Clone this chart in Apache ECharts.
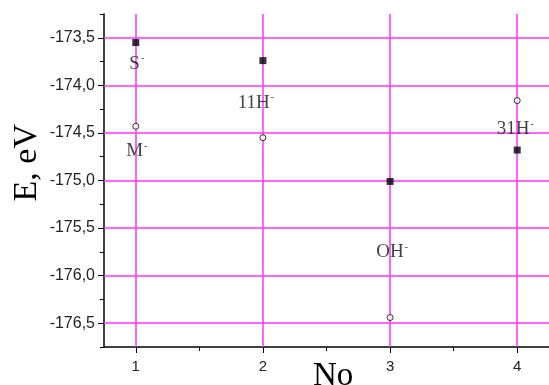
<!DOCTYPE html>
<html>
<head>
<meta charset="utf-8">
<script src="https://cdn.jsdelivr.net/npm/echarts@6/dist/echarts.min.js"></script>
<style>html,body{margin:0;padding:0;background:#fff}#c{width:549px;height:385px}</style>
</head>
<body>
<div id="c"></div>
<script>
// ---- data ----
var xTicks = [1, 2, 3, 4];
var xMinorTicks = [1.5, 2.5, 3.5];
var yTicks = [-176.5, -176.0, -175.5, -175.0, -174.5, -174.0, -173.5];
var yMinorTicks = [-176.75, -176.25, -175.75, -175.25, -174.75, -174.25, -173.75, -173.25];
var squareValues = [-173.55, -173.74, -175.01, -174.68];
var circleValues = [-174.43, -174.55, -176.44, -174.16];
var squareLabels = ['S', '11H', 'OH', '31H'];
var circleLabels = ['M', '', '', ''];

var squareLabelOffsets = [[1, 21], [-7, 42], [2, 71], [-2, -21]];
var circleLabelOffsets = [[1, 25], [0, 0], [0, 0], [0, 0]];

var rich = {
  m: { fontFamily: 'Liberation Serif', fontSize: 19, color: '#111' },
  s: { fontFamily: 'Liberation Serif', fontSize: 10, color: '#111', verticalAlign: 'top', padding: [0, 0, 10, 1] }
};
function mkData(vals, labels, offs) {
  return vals.map(function (v, i) {
    var d = { value: [xTicks[i], v] };
    if (labels[i]) {
      d.label = { show: true, position: 'inside', offset: offs[i], formatter: '{m|' + labels[i] + '}{s|-}', rich: rich };
    }
    return d;
  });
}

var gridColor = '#ff33ff';
var chart = echarts.init(document.getElementById('c'));
var axisCommon = { type: 'value', min: 0.75, max: 4.25, splitLine: { show: false } };
chart.setOption({
  animation: false,
  grid: { left: 104, top: 14, width: 447, height: 333 },
  xAxis: [
    Object.assign({}, axisCommon, {
      position: 'bottom', offset: 0,
      axisLine: { show: true, lineStyle: { color: '#000', width: 1.5 } },
      axisTick: { show: true, customValues: xTicks, length: 6, lineStyle: { color: '#000', width: 1 } },
      axisLabel: { customValues: xTicks, margin: 12, color: '#222', fontFamily: 'Liberation Sans', fontSize: 15 }
    }),
    Object.assign({}, axisCommon, {
      position: 'bottom', offset: 0,
      axisLine: { show: false },
      axisTick: { show: true, customValues: xMinorTicks, length: 4, lineStyle: { color: '#000', width: 1 } },
      axisLabel: { show: false }
    })
  ],
  yAxis: [
    {
      type: 'value', min: -176.75, max: -173.25, position: 'left', offset: 0,
      splitLine: { show: false },
      axisLine: { show: true, lineStyle: { color: '#000', width: 1.5 } },
      axisTick: { show: true, customValues: yTicks, length: 6, lineStyle: { color: '#000', width: 1 } },
      axisLabel: {
        customValues: yTicks, margin: 9, color: '#222', fontFamily: 'Liberation Sans', fontSize: 16,
        formatter: function (v) { return v.toFixed(1).replace('.', ','); }
      }
    },
    {
      type: 'value', min: -176.75, max: -173.25, position: 'left', offset: 0,
      splitLine: { show: false },
      axisLine: { show: false },
      axisTick: { show: true, customValues: yMinorTicks, length: 4, lineStyle: { color: '#000', width: 1 } },
      axisLabel: { show: false }
    }
  ],
  graphic: [
    { type: 'text', left: 10, top: 124, rotation: Math.PI / 2,
      style: { text: 'E, eV', font: '34px "Liberation Serif"', fill: '#000' } },
    { type: 'text', left: 313, top: 360,
      style: { text: 'No', font: '33px "Liberation Serif"', fill: '#000' } }
  ],
  series: [
    {
      type: 'line', xAxisIndex: 0, yAxisIndex: 0, data: [], z: 1, silent: true,
      markLine: {
        silent: true, symbol: 'none', label: { show: false },
        lineStyle: { color: gridColor, width: 1.5, type: 'solid' },
        emphasis: { disabled: true },
        data: yTicks.map(function (v) { return { yAxis: v }; }).concat(xTicks.map(function (v) { return { xAxis: v }; }))
      }
    },
    {
      type: 'scatter', xAxisIndex: 0, yAxisIndex: 0, z: 5,
      symbol: 'rect', symbolSize: 7,
      itemStyle: { color: '#000' },
      data: mkData(squareValues, squareLabels, squareLabelOffsets)
    },
    {
      type: 'scatter', xAxisIndex: 0, yAxisIndex: 0, z: 5,
      symbol: 'circle', symbolSize: 6,
      itemStyle: { color: '#fff', borderColor: '#000', borderWidth: 1 },
      data: mkData(circleValues, circleLabels, circleLabelOffsets)
    }
  ]
});
</script>
</body>
</html>
